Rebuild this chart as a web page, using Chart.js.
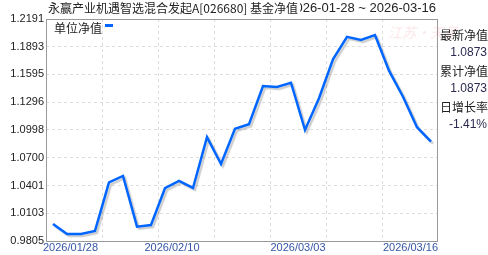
<!DOCTYPE html>
<html>
<head>
<meta charset="utf-8">
<script src="https://cdn.jsdelivr.net/npm/chart.js@4/dist/chart.umd.min.js"></script>
<style>
    html, body { margin: 0; padding: 0; background: #fff; }
    #wrap { width: 488px; height: 255px; position: relative; }
</style>
</head>
<body>
<div id="wrap"><canvas id="navChart"></canvas></div>
<script>
// 交易日
const dates = [
    '2026/01/28', '2026/01/29', '2026/01/30',
    '2026/02/02', '2026/02/03', '2026/02/04', '2026/02/05', '2026/02/06',
    '2026/02/09', '2026/02/10', '2026/02/11', '2026/02/12', '2026/02/13',
    '2026/02/24', '2026/02/25', '2026/02/26', '2026/02/27',
    '2026/03/02', '2026/03/03', '2026/03/04', '2026/03/05', '2026/03/06',
    '2026/03/09', '2026/03/10', '2026/03/11', '2026/03/12', '2026/03/13',
    '2026/03/16'
];

// 单位净值
const navValues = [
    0.9988, 0.9880, 0.9880, 0.9913, 1.0436, 1.0504, 0.9959, 0.9977,
    1.0372, 1.0450, 1.0375, 1.0920, 1.0633, 1.1012, 1.1060, 1.1471,
    1.1460, 1.1506, 1.0998, 1.1339, 1.1758, 1.1999, 1.1966, 1.2019,
    1.1636, 1.1356, 1.1028, 1.0873
];

const yTicks = [0.9805, 1.0103, 1.0401, 1.0700, 1.0998, 1.1296, 1.1595, 1.1893, 1.2191];
const xLabelIdx = [0, 9, 18, 27];
const xGridIdx = [4, 8, 12, 16, 20, 24];

const fundTitle = '永赢产业机遇智选混合发起A[026680] 基金净值';
const dateRange = '2026-01-28 ~ 2026-03-16';
const legendLabel = '单位净值';
const sideInfo = [
    ['最新净值', '1.0873'],
    ['累计净值', '1.0873'],
    ['日增长率', '-1.41%']
];

const FONT = '"Liberation Sans", Arial, sans-serif';
const CJK = '"Noto Sans CJK SC", "Liberation Sans", sans-serif';

// 线条阴影
const shadowPlugin = {
    id: 'lineShadow',
    beforeDatasetsDraw(chart) {
        const ctx = chart.ctx;
        ctx.save();
        ctx.shadowColor = 'rgba(0,0,0,0.2)';
        ctx.shadowOffsetX = 2;
        ctx.shadowOffsetY = 2;
        ctx.shadowBlur = 1;
    },
    afterDatasetsDraw(chart) {
        chart.ctx.restore();
    }
};

// 边框, 标题, 图例, 右侧信息
const decorPlugin = {
    id: 'decor',
    afterDraw(chart) {
        const ctx = chart.ctx;
        const area = chart.chartArea;
        const xScale = chart.scales.x;

        ctx.save();

        // frame
        ctx.strokeStyle = '#999';
        ctx.lineWidth = 1;
        ctx.strokeRect(area.left + 0.5, area.top + 0.5,
            area.right - area.left - 1, area.bottom - area.top);

        // x labels
        ctx.font = '11px ' + FONT;
        ctx.fillStyle = '#3556a6';
        ctx.textBaseline = 'middle';
        ctx.textAlign = 'left';
        xLabelIdx.forEach(i => {
            const text = dates[i];
            const w = ctx.measureText(text).width;
            let x = xScale.getPixelForValue(i) - w / 2;
            x = Math.max(area.left - 3, Math.min(x, area.right - w));
            ctx.fillText(text, x, area.bottom + 7);
        });

        // title
        ctx.font = '13px ' + FONT;
        ctx.fillStyle = '#222';
        ctx.textAlign = 'right';
        ctx.fillText(dateRange, 436, 8);
        ctx.font = '12px ' + CJK;
        ctx.textAlign = 'left';
        const tw = ctx.measureText(fundTitle).width;
        ctx.fillStyle = '#fff';
        ctx.fillRect(47, 0, tw + 3, 17);
        ctx.fillStyle = '#222';
        ctx.fillText(fundTitle, 48, 8);

        // legend
        ctx.fillText(legendLabel, 54, 28);
        const lw = ctx.measureText(legendLabel).width;
        ctx.fillStyle = '#0066ff';
        ctx.fillRect(54 + lw + 3, 24, 8, 3);

        // watermark
        ctx.font = 'italic 14px ' + CJK;
        ctx.fillStyle = 'rgba(240,140,150,0.22)';
        ctx.fillText('江苏·天星', 388, 33);

        // side info
        sideInfo.forEach((row, k) => {
            const y0 = 35 + k * 36;
            ctx.font = '12px ' + CJK;
            ctx.fillStyle = '#222';
            ctx.textAlign = 'left';
            ctx.fillText(row[0], 440, y0);
            ctx.font = '12px ' + FONT;
            ctx.fillStyle = '#2a2a50';
            ctx.textAlign = 'right';
            ctx.fillText(row[1], 487, y0 + 18);
        });

        ctx.restore();
    }
};

const ctx = document.getElementById('navChart');

new Chart(ctx, {
    type: 'line',
    data: {
        datasets: [{
            label: legendLabel,
            data: navValues.map((v, i) => ({ x: i + 0.5, y: v })),
            borderColor: '#0066ff',
            borderWidth: 2.5,
            pointRadius: 0,
            tension: 0,
            fill: false
        }]
    },
    options: {
        responsive: true,
        maintainAspectRatio: false,
        animation: false,
        layout: {
            padding: { top: 19, right: 50, left: 0, bottom: 0 }
        },
        plugins: {
            legend: { display: false },
            title: { display: false },
            tooltip: { enabled: false }
        },
        scales: {
            x: {
                type: 'linear',
                min: 0,
                max: dates.length,
                afterBuildTicks: scale => {
                    scale.ticks = xGridIdx.map(v => ({ value: v }));
                },
                afterFit: scale => { scale.height = 14; },
                ticks: { display: false },
                grid: {
                    color: '#dddddd',
                    drawTicks: false
                },
                border: { display: false, dash: [3, 3] }
            },
            y: {
                min: yTicks[0],
                max: yTicks[yTicks.length - 1],
                afterBuildTicks: scale => {
                    scale.ticks = yTicks.map(v => ({ value: v }));
                },
                afterFit: scale => { scale.width = 46; },
                ticks: {
                    padding: 2,
                    color: '#222',
                    font: { size: 11, family: FONT },
                    callback: v => Number(v).toFixed(4)
                },
                grid: {
                    color: '#dddddd',
                    drawTicks: false
                },
                border: { display: false, dash: [3, 3] }
            }
        }
    },
    plugins: [shadowPlugin, decorPlugin]
});
</script>
</body>
</html>
